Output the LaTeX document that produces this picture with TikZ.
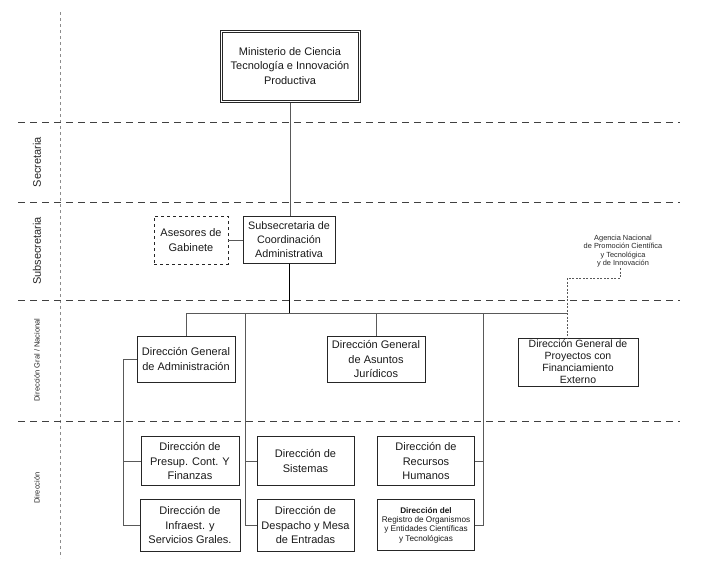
\documentclass[tikz,border=0pt]{standalone}
\usepackage{fontspec}
\setmainfont{Liberation Sans}
\begin{document}
\begin{tikzpicture}[x=1pt,y=-1pt,
  box/.style={draw=black!85, line width=0.9pt, align=center, inner sep=1pt,
    font=\fontsize{11}{14.5}\selectfont, text=black!90},
  conn/.style={draw=black!65, line width=0.6pt},
  agconn/.style={draw=black!65, line width=0.6pt, dash pattern=on 2pt off 1.5pt},
  sep/.style={draw=black!75, line width=0.9pt, dash pattern=on 7pt off 5pt},
  vsep/.style={draw=black!45, line width=0.5pt, dash pattern=on 3pt off 3pt},
  biglab/.style={rotate=90, font=\fontsize{11}{13}\selectfont, text=black!85},
  smalllab/.style={rotate=90, font=\fontsize{7.5}{9}\selectfont, text=black!85}]
\useasboundingbox (0,0) rectangle (707,576);

% level separators
\coordinate (vt) at (60,12);
\coordinate (vb) at (60,558);
\draw[vsep] (vt) -- (vb);
\coordinate (s1l) at (18,122); \coordinate (s1r) at (680,122);
\coordinate (s2l) at (18,202); \coordinate (s2r) at (680,202);
\coordinate (s3l) at (18,300); \coordinate (s3r) at (680,300);
\coordinate (s4l) at (18,421); \coordinate (s4r) at (680,421);
\draw[sep] (s1l) -- (s1r);
\draw[sep] (s2l) -- (s2r);
\draw[sep] (s3l) -- (s3r);
\draw[sep] (s4l) -- (s4r);

% level labels
\node[biglab] (lsec) at (37,162) {Secretaria};
\node[biglab] (lsub) at (37,251) {Subsecretaria};
\node[smalllab] (ldgn) at (37,360) {Dirección Gral / Nacional};
\node[smalllab] (ldir) at (37,488) {Dirección};

% boxes
\node[box, line width=1pt, minimum width=140pt, minimum height=72pt] (min) at (290,66)
  {Ministerio de Ciencia\\Tecnología e Innovación\\Productiva};
\draw[draw=black!85, line width=0.6pt]
  ([xshift=2.5pt,yshift=-2.5pt]min.north west) rectangle ([xshift=-2.5pt,yshift=2.5pt]min.south east);
\node[box, dashed, minimum width=74pt, minimum height=48pt] (ase) at (191,240)
  {Asesores de\\Gabinete};
\node[box, minimum width=92pt, minimum height=47pt, font=\fontsize{10.8}{14}\selectfont] (sub) at (289,240)
  {Subsecretaria de\\Coordinación\\Administrativa};
\node[align=center, inner sep=0pt, font=\fontsize{7.4}{8.6}\selectfont, text=black!85] (ag) at (623,251)
  {Agencia Nacional\\de Promoción Científica\\y Tecnológica\\y de Innovación};

\node[box, minimum width=98pt, minimum height=46pt] (dgadm) at (186,359)
  {Dirección General\\de Administración};
\node[box, minimum width=98pt, minimum height=46pt] (dgjur) at (376,359)
  {Dirección General\\de Asuntos\\Jurídicos};
\node[box, minimum width=120pt, minimum height=48pt, font=\fontsize{10.5}{12}\selectfont] (dgproy) at (578,362)
  {Dirección General de\\Proyectos con\\Financiamiento\\Externo};

\node[box, minimum width=98pt, minimum height=49pt] (presup) at (190,461)
  {Dirección de\\Presup. Cont. Y\\Finanzas};
\node[box, minimum width=97pt, minimum height=49pt] (sist) at (305.5,461)
  {Dirección de\\Sistemas};
\node[box, minimum width=97pt, minimum height=49pt] (rrhh) at (426,461)
  {Dirección de\\Recursos\\Humanos};
\node[box, minimum width=100pt, minimum height=52pt] (infra) at (190,525)
  {Dirección de\\Infraest. y\\Servicios Grales.};
\node[box, minimum width=97pt, minimum height=52pt] (desp) at (305.5,525)
  {Dirección de\\Despacho y Mesa\\de Entradas};
\node[box, minimum width=97pt, minimum height=51pt, font=\fontsize{8.2}{9.4}\selectfont] (reg) at (426,525)
  {\textbf{Dirección del}\\Registro de Organismos\\y Entidades Científicas\\y Tecnológicas};

% connectors
\draw[conn] (min.south) -- (min.south |- sub.north);
\draw[conn] (ase.east) -- (sub.west);
\draw[draw=black, line width=1pt] (sub.south) -- (sub.south |- 0,313);

\coordinate (b1) at (186,313);
\coordinate (b2) at (245,313);
\coordinate (b3) at (376,313);
\coordinate (b4) at (483,313);
\coordinate (b5) at (567,313);
\draw[conn] (b1) -- (b5);
\draw[conn] (b1) -- (dgadm.north);
\draw[conn] (b3) -- (dgjur.north);
\draw[conn] (b2) -- (b2 |- desp.west) -- (desp.west);
\draw[conn] (b2 |- sist.west) -- (sist.west);
\draw[conn] (b4) -- (b4 |- reg.east) -- (reg.east);
\draw[conn] (b4 |- rrhh.east) -- (rrhh.east);

\coordinate (lv) at (123,359);
\draw[conn] (dgadm.west) -- (lv) -- (lv |- infra.west) -- (infra.west);
\draw[conn] (lv |- presup.west) -- (presup.west);

\coordinate (a1) at (620,268);
\coordinate (a2) at (620,278);
\coordinate (a3) at (567,278);
\draw[agconn] (a1) -- (a2) -- (a3) -- (a3 |- dgproy.north);
\end{tikzpicture}
\end{document}
